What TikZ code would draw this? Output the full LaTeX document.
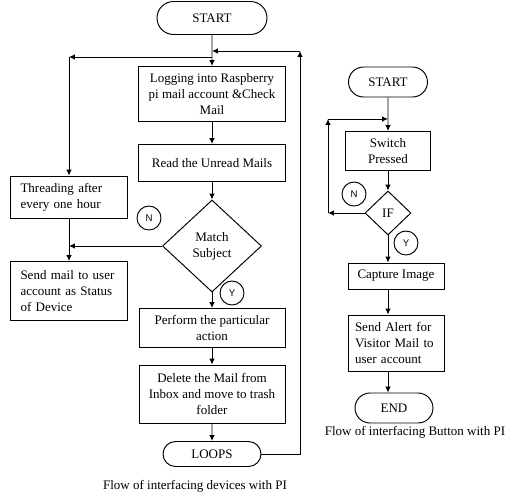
\documentclass[tikz,border=0pt]{standalone}
\usepackage{fontspec}
\setmainfont{Liberation Serif}
\newfontfamily\labelfont{Liberation Sans}
\usetikzlibrary{shapes.geometric,shapes.misc,arrows.meta}

\begin{document}
\begin{tikzpicture}[
    x=0.02cm, y=-0.02cm,
    font=\fontsize{7.4}{9}\selectfont,
    line width=0.55pt,
    arr/.style={-{Latex[length=3.4pt,width=3.2pt]}},
    terminal/.style={rounded rectangle, draw, inner sep=0pt},
    process/.style={rectangle, draw, inner sep=0pt, align=center},
    leftbox/.style={rectangle, draw, inner xsep=0.2cm, inner ysep=0pt, align=left},
    decision/.style={diamond, draw, inner sep=0pt, align=center},
    answer/.style={circle, draw, inner sep=0pt, minimum size=0.48cm,
        font=\labelfont\fontsize{5.5}{6}\selectfont}
    ]
    \useasboundingbox (0,0) rectangle (505,495);

    % devices with PI
    \node[terminal, minimum width=2.2cm, minimum height=0.66cm] (start1) at (212,18) {START};
    \node[process, minimum width=2.94cm, minimum height=1.1cm] (login) at (212,94)
        {Logging into Raspberry\\pi mail account \&Check\\Mail};
    \node[process, minimum width=2.94cm, minimum height=0.74cm] (read) at (212,163) {Read the Unread Mails};
    \node[decision, minimum width=1.98cm, minimum height=1.84cm] (match) at (212,246) {Match\\Subject};
    \node[process, minimum width=2.92cm, minimum height=0.78cm] (perform) at (212,328)
        {Perform the particular\\action};
    \node[process, minimum width=2.92cm, minimum height=1.16cm] (delete) at (212,394)
        {Delete the Mail from\\Inbox and move to trash\\folder};
    \node[terminal, minimum width=1.96cm, minimum height=0.5cm] (loops) at (212,454) {LOOPS};
    \node[leftbox, text width=1.94cm, minimum height=0.84cm] (thread) at (69,197)
        {Threading after\\every one hour};
    \node[leftbox, text width=1.94cm, minimum height=1.18cm] (sendmail) at (69,291)
        {Send mail to user\\account as Status\\of Device};
    \node[answer] (no1) at (149,218) {N};
    \node[answer] (yes1) at (232,293) {Y};

    \coordinate (jn) at (212,57);
    \coordinate (jl) at (212,51);
    \coordinate (back) at (300,51);

    \draw[arr] (start1) -- (login);
    \draw[arr] (jn) -- (jn -| thread);
    \draw[arr] (jn -| thread) -- (thread);
    \draw[arr] (login) -- (read);
    \draw[arr] (read) -- (match);
    \draw[arr] (match) -- (match -| thread);
    \draw[arr] (thread) -- (sendmail);
    \draw[arr] (match) -- (perform);
    \draw[arr] (perform) -- (delete);
    \draw[arr] (delete) -- (loops);
    \draw[arr] (loops) -| (back);
    \draw[arr] (back) -- (jl);

    \node (cap1) at (195,486) {Flow of interfacing devices with PI};

    % button with PI
    \node[terminal, minimum width=1.58cm, minimum height=0.6cm] (start2) at (388,82) {START};
    \node[process, minimum width=1.7cm, minimum height=0.78cm] (switch) at (388,151) {Switch\\Pressed};
    \node[decision, minimum width=0.92cm, minimum height=0.88cm] (iff) at (388,213) {IF};
    \node[process, minimum width=1.92cm, minimum height=0.52cm] (capture) at (396,276) {Capture Image};
    \node[leftbox, inner xsep=0.14cm, text width=1.64cm, minimum height=1.12cm] (alert) at (396,343)
        {Send Alert for\\Visitor Mail to\\user account};
    \node[terminal, minimum width=1.56cm, minimum height=0.6cm] (stop2) at (394,408) {END};
    \node[answer] (no2) at (354,194) {N};
    \node[answer] (yes2) at (406,243) {Y};

    \coordinate (jr) at (388,119);
    \coordinate (nb) at (328,119);

    \draw[arr] (start2) -- (switch);
    \draw[arr] (switch) -- (iff);
    \draw[arr] (iff) -- (iff -| nb);
    \draw[arr] (iff -| nb) -- (nb);
    \draw[arr] (nb) -- (jr);
    \draw[arr] (iff.south) -- (iff.south |- capture.north);
    \draw[arr] (capture.south -| iff) -- (alert.north -| iff);
    \draw[arr] (alert.south -| iff) -- (stop2.north -| iff);

    \node (cap2) at (415,432) {Flow of interfacing Button with PI};

\end{tikzpicture}
\end{document}
